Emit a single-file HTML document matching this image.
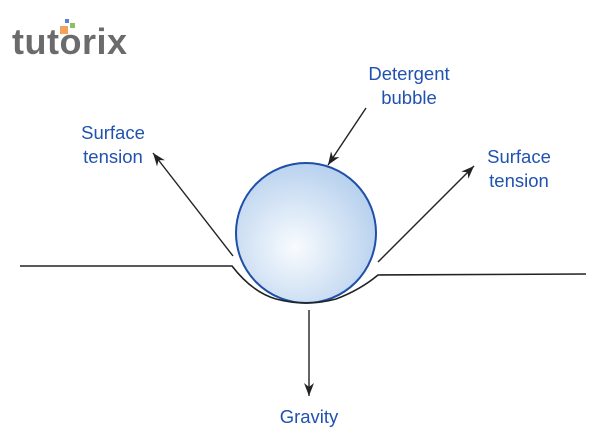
<!DOCTYPE html>
<html><head><meta charset="utf-8"><style>
html,body{margin:0;padding:0;background:#fff;}
svg{display:block}
</style></head><body>
<svg width="600" height="438" viewBox="0 0 600 438" xmlns="http://www.w3.org/2000/svg">
<defs>
<radialGradient id="g" cx="0.42" cy="0.6" r="0.6">
<stop offset="0" stop-color="#f8fbfe"/>
<stop offset="1" stop-color="#b9d2ee"/>
</radialGradient>
<marker id="a" markerWidth="14" markerHeight="12" refX="13" refY="6" orient="auto" markerUnits="userSpaceOnUse">
<path d="M0,1 L13,6 L0,11 L4,6 Z" fill="#222"/>
</marker>
</defs>
<text x="12" y="54" font-family="Liberation Sans, sans-serif" font-weight="bold" font-size="36" fill="#6b6b6b" letter-spacing="0.5">tutorix</text>
<rect x="60" y="26" width="8" height="8" fill="#f2a25c"/>
<rect x="70" y="23" width="5" height="5" fill="#8cc063"/>
<rect x="65" y="19" width="4" height="4" fill="#5a7fd0"/>
<circle cx="306" cy="233" r="70" fill="url(#g)" stroke="#1f4fa8" stroke-width="2"/>
<path d="M20,266 L232,266 Q252,292 276,299 Q306,307 336,299 Q360,290 378,275 L586,274" fill="none" stroke="#222" stroke-width="1.6"/>
<line x1="233" y1="256" x2="153" y2="153" stroke="#222" stroke-width="1.4" marker-end="url(#a)"/>
<line x1="378" y1="262" x2="474" y2="166" stroke="#222" stroke-width="1.4" marker-end="url(#a)"/>
<line x1="366" y1="108" x2="328" y2="165" stroke="#222" stroke-width="1.4" marker-end="url(#a)"/>
<line x1="309" y1="310" x2="309" y2="396" stroke="#222" stroke-width="1.4" marker-end="url(#a)"/>
<g font-family="Liberation Sans, sans-serif" font-size="18.5" fill="#2152b0" text-anchor="middle">
<text x="409" y="80">Detergent</text>
<text x="409" y="104">bubble</text>
<text x="113" y="139">Surface</text>
<text x="113" y="163">tension</text>
<text x="519" y="163">Surface</text>
<text x="519" y="187">tension</text>
<text x="309" y="423">Gravity</text>
</g>
</svg>
</body></html>
